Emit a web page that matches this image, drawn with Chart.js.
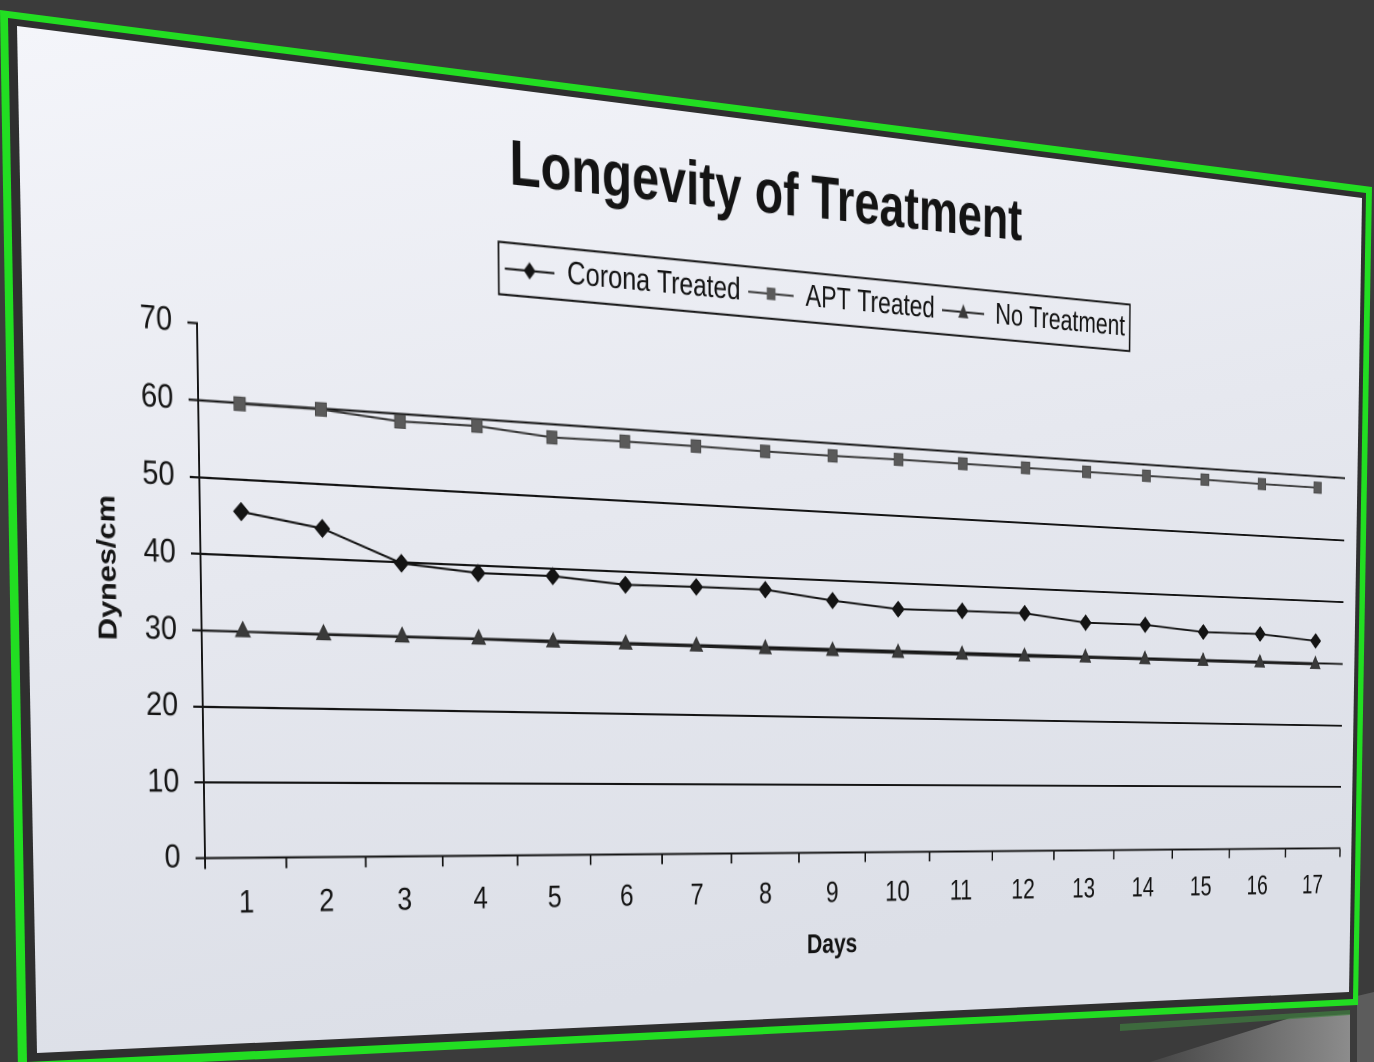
<!DOCTYPE html>
<html>
<head>
<meta charset="utf-8">
<title>Longevity of Treatment</title>
<script src="https://cdn.jsdelivr.net/npm/chart.js@4.4.1/dist/chart.umd.min.js"></script>
<style>
  html, body { margin: 0; padding: 0; width: 1374px; height: 1062px; overflow: hidden; background: #3b3b3b; }
  #stage { position: relative; width: 1374px; height: 1062px; }
  #board { position: absolute; left: 0; top: 0; }
  #wrap { position: absolute; left: 0; top: 0; transform-origin: 0 0; }
  #c { display: block; }
</style>
</head>
<body>
<div id="stage">
  <svg id="board" width="1374" height="1062" viewBox="0 0 1374 1062">
    <defs>
      <linearGradient id="paper" x1="0" y1="0" x2="0.25" y2="1">
        <stop offset="0" stop-color="#f4f5fa"/>
        <stop offset="0.55" stop-color="#e6e8ef"/>
        <stop offset="1" stop-color="#dcdfe7"/>
      </linearGradient>
      <linearGradient id="floor" x1="0" y1="0" x2="1" y2="0">
        <stop offset="0" stop-color="#454545"/>
        <stop offset="1" stop-color="#8c8c8c"/>
      </linearGradient>
    </defs>
    <!-- reflection under the board, lower right -->
    <polygon points="1150,1062 1290,1018 1350,1014 1350,1062" fill="url(#floor)"/>
    <polygon points="1357,996 1374,992 1374,1062 1357,1062" fill="#5c5c5c"/>
    <polygon points="1120,1024 1350,1010 1350,1015 1120,1031" fill="#3f7f3f" opacity="0.7"/>
    <!-- green frame, dark rim and the sheet -->
    <polygon points="0,10 1372,187 1358,1005 18,1071" fill="#22de22"/>
    <polygon points="8,18 1366,193 1353,999 27,1062" fill="#2f2f2f"/>
    <polygon points="17,26 1362,198 1349,992 37,1053" fill="url(#paper)"/>
  </svg>
  <div id="wrap"><canvas id="c"></canvas></div>
</div>

<script>
// ---- data ----
const days = ['1','2','3','4','5','6','7','8','9','10','11','12','13','14','15','16','17'];
const coronaTreated = [45.8, 44.1, 39.9, 39.0, 39.0, 38.2, 38.3, 38.3, 37.1, 36.2, 36.3, 36.3, 35.2, 35.2, 34.4, 34.4, 33.6];
const aptTreated    = [59.9, 59.9, 59.0, 59.1, 58.2, 58.3, 58.3, 58.2, 58.2, 58.3, 58.3, 58.3, 58.3, 58.3, 58.3, 58.2, 58.2];
const noTreatment   = [30.0, 29.9, 29.9, 29.9, 29.8, 29.8, 29.8, 29.7, 29.7, 29.7, 29.7, 29.7, 29.8, 29.8, 29.8, 29.8, 29.8];
const seriesNames = ['Corona Treated', 'APT Treated', 'No Treatment'];
const yTicks = { min: 0, max: 70, step: 10 };

// ---- sizes of the flat drawing and the tilted board ----
const FLAT_W = 1660, FLAT_H = 839;
// where the plot rectangle sits on the tilted board (TL, TR, BR, BL)
const PLOT_ON_BOARD = [[197, 323], [1346, 416], [1340, 848], [205, 858]];

const FONT = '"Liberation Sans", Arial, Helvetica, sans-serif';
const INK = '#141414';

Chart.defaults.font.family = FONT;
Chart.defaults.color = INK;

// small line-with-marker swatches for the legend
function swatch(kind, lineColor, fillColor) {
  const cv = document.createElement('canvas');
  cv.width = 58; cv.height = 22;
  const g = cv.getContext('2d');
  g.strokeStyle = lineColor; g.lineWidth = 2;
  g.beginPath(); g.moveTo(0, 11); g.lineTo(58, 11); g.stroke();
  g.fillStyle = fillColor;
  g.beginPath();
  if (kind === 'diamond') {
    g.moveTo(29, 3); g.lineTo(36, 11); g.lineTo(29, 19); g.lineTo(22, 11);
  } else if (kind === 'square') {
    g.rect(23.5, 5, 11, 12);
  } else {
    g.moveTo(29, 3); g.lineTo(36, 17); g.lineTo(22, 17);
  }
  g.closePath(); g.fill();
  return cv;
}
const legendSwatches = [
  swatch('diamond', '#141414', '#141414'),
  swatch('square', '#3a3a3a', '#5a5a5a'),
  swatch('triangle', '#222222', '#3a3a3a')
];

// rectangle drawn round the legend entries
const legendFrame = {
  id: 'legendFrame',
  afterDraw(chart) {
    const lg = chart.legend;
    if (!lg || !lg.legendHitBoxes || !lg.legendHitBoxes.length) return;
    const boxes = lg.legendHitBoxes;
    const l = Math.min(...boxes.map(b => b.left));
    const r = Math.max(...boxes.map(b => b.left + b.width));
    const ctx = chart.ctx;
    ctx.save();
    ctx.strokeStyle = INK;
    ctx.lineWidth = 2;
    ctx.strokeRect(l - 7, lg.top + 1, r - l + 14, lg.height - 2);
    ctx.restore();
  }
};

const canvas = document.getElementById('c');
canvas.width = FLAT_W; canvas.height = FLAT_H;
canvas.style.width = FLAT_W + 'px'; canvas.style.height = FLAT_H + 'px';

const chart = new Chart(canvas, {
  type: 'line',
  data: {
    labels: days,
    datasets: [
      {
        label: seriesNames[0], data: coronaTreated,
        borderColor: '#141414', backgroundColor: '#141414',
        borderWidth: 2, pointStyle: 'rectRot', pointRadius: 8,
        pointBackgroundColor: '#141414', pointBorderColor: '#141414', pointBorderWidth: 1
      },
      {
        label: seriesNames[1], data: aptTreated,
        borderColor: '#3a3a3a', backgroundColor: '#5a5a5a',
        borderWidth: 2, pointStyle: 'rect', pointRadius: 8.5,
        pointBackgroundColor: '#5a5a5a', pointBorderColor: '#4a4a4a', pointBorderWidth: 1
      },
      {
        label: seriesNames[2], data: noTreatment,
        borderColor: '#222222', backgroundColor: '#3a3a3a',
        borderWidth: 2, pointStyle: 'triangle', pointRadius: 9,
        pointBackgroundColor: '#3a3a3a', pointBorderColor: '#333333', pointBorderWidth: 1
      }
    ]
  },
  options: {
    responsive: false,
    animation: false,
    devicePixelRatio: 2,
    layout: { padding: { left: 8, right: 20, top: 0, bottom: 8 } },
    elements: { line: { tension: 0, fill: false } },
    plugins: {
      tooltip: { enabled: false },
      title: {
        display: true,
        text: 'Longevity of Treatment',
        color: INK,
        font: { size: 59.5, weight: 'bold' },
        padding: { top: 33.1, bottom: 33.8 }
      },
      legend: {
        display: true,
        position: 'top',
        fullSize: false,
        weight: 1800,
        labels: {
          usePointStyle: true,
          pointStyleWidth: 58,
          padding: 10,
          color: INK,
          font: { size: 30.5 },
          generateLabels(ch) {
            const items = Chart.defaults.plugins.legend.labels.generateLabels(ch);
            items.forEach((it, i) => { it.pointStyle = legendSwatches[i]; });
            return items;
          }
        }
      },
      // blank spacer between the legend and the plot
      subtitle: {
        display: true,
        text: ' ',
        font: { size: 10 },
        padding: { top: 36.5, bottom: 0 }
      }
    },
    scales: {
      x: {
        type: 'category',
        offset: true,
        grid: {
          offset: true, drawOnChartArea: false, drawTicks: true,
          tickLength: 10, tickColor: INK, tickWidth: 2
        },
        border: { display: true, color: INK, width: 2 },
        ticks: { color: INK, font: { size: 30 }, padding: 14, maxRotation: 0, autoSkip: false },
        title: {
          display: true, text: 'Days', color: INK,
          font: { size: 28, weight: 'bold' }, padding: { top: 3, bottom: 5 }
        }
      },
      y: {
        min: yTicks.min, max: yTicks.max,
        ticks: { stepSize: yTicks.step, color: INK, font: { size: 30 }, padding: 16 },
        grid: {
          color: c => (c.tick && c.tick.value === yTicks.max) ? 'rgba(0,0,0,0)' : INK,
          lineWidth: 2, tickLength: 10, tickColor: INK, tickWidth: 2
        },
        border: { display: true, color: INK, width: 2 },
        title: {
          display: true, text: '     Dynes/cm', color: INK,
          font: { size: 27, weight: 'bold' }, padding: { top: 30, bottom: 0 }
        },
        afterFit(s) { s.width = 142; }
      }
    }
  },
  plugins: [legendFrame]
});

// ---- tilt the flat drawing onto the board ----
function homography(src, dst) {
  const A = [], b = [];
  for (let i = 0; i < 4; i++) {
    const [x, y] = src[i], [X, Y] = dst[i];
    A.push([x, y, 1, 0, 0, 0, -X * x, -X * y]); b.push(X);
    A.push([0, 0, 0, x, y, 1, -Y * x, -Y * y]); b.push(Y);
  }
  const n = 8;
  for (let c = 0; c < n; c++) {
    let p = c;
    for (let r = c + 1; r < n; r++) if (Math.abs(A[r][c]) > Math.abs(A[p][c])) p = r;
    [A[c], A[p]] = [A[p], A[c]]; [b[c], b[p]] = [b[p], b[c]];
    for (let r = 0; r < n; r++) {
      if (r === c) continue;
      const f = A[r][c] / A[c][c];
      for (let k = c; k < n; k++) A[r][k] -= f * A[c][k];
      b[r] -= f * b[c];
    }
  }
  const h = b.map((v, i) => v / A[i][i]);
  return [h[0], h[1], h[2], h[3], h[4], h[5], h[6], h[7], 1];
}

const ca = chart.chartArea;
const H = homography(
  [[ca.left, ca.top], [ca.right, ca.top], [ca.right, ca.bottom], [ca.left, ca.bottom]],
  PLOT_ON_BOARD
);
document.getElementById('wrap').style.transform =
  `matrix3d(${H[0]},${H[3]},0,${H[6]},${H[1]},${H[4]},0,${H[7]},0,0,1,0,${H[2]},${H[5]},0,${H[8]})`;
</script>
</body>
</html>
